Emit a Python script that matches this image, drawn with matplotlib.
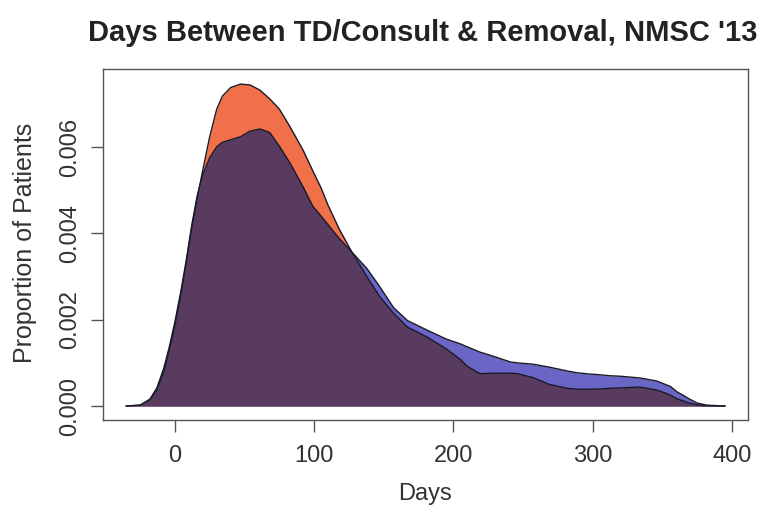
import matplotlib
matplotlib.use("Agg")
import matplotlib.pyplot as plt
import numpy as np

plt.rcParams['font.family'] = ['Liberation Sans', 'DejaVu Sans']

title = "Days Between TD/Consult & Removal, NMSC '13"
xlabel = "Days"
ylabel = "Proportion of Patients"
xticks = [0, 100, 200, 300, 400]
yticks = [0.000, 0.002, 0.004, 0.006]
ytick_labels = ["0.000", "0.002", "0.004", "0.006"]

days = [-35, -25, -18, -13, -8, -4, 0, 4, 8, 12, 16, 20, 25, 30, 34, 40, 47, 54,
        61, 68, 75, 83, 92, 99, 105, 110, 118, 127, 138, 147, 157, 167, 181, 195,
        205, 210, 219, 228, 241, 246, 257, 269, 282, 289, 298, 303, 313, 320, 334,
        346, 353, 356, 361, 365, 368, 372, 375, 382, 395]

density_orange = [0.0, 0.00002, 0.00014, 0.00037, 0.00080, 0.00130, 0.00187, 0.00255,
                  0.00330, 0.00412, 0.00482, 0.00547, 0.00625, 0.00688, 0.00718, 0.00738,
                  0.00746, 0.00744, 0.00732, 0.00712, 0.00688, 0.00645, 0.00593, 0.00545,
                  0.00505, 0.00465, 0.00410, 0.00357, 0.00299, 0.00254, 0.00215, 0.00183,
                  0.00160, 0.00132, 0.00108, 0.00092, 0.00075, 0.00076, 0.00076, 0.00075,
                  0.00066, 0.00050, 0.00041, 0.00039, 0.00039, 0.00039, 0.00041, 0.00042,
                  0.00044, 0.00037, 0.00029, 0.00025, 0.00016, 0.00012, 0.00008, 0.00005,
                  0.00003, 0.0, 0.0]

density_blue = [0.0, 0.00002, 0.00016, 0.00042, 0.00088, 0.00138, 0.00196, 0.00262,
                0.00336, 0.00418, 0.00488, 0.00537, 0.00576, 0.00601, 0.00611, 0.00617,
                0.00624, 0.00637, 0.00642, 0.00634, 0.00602, 0.00561, 0.00508, 0.00463,
                0.00440, 0.00420, 0.00388, 0.00357, 0.00318, 0.00277, 0.00228, 0.00198,
                0.00176, 0.00155, 0.00144, 0.00137, 0.00125, 0.00116, 0.00102, 0.00100,
                0.00097, 0.00090, 0.00081, 0.00077, 0.00074, 0.00073, 0.00070, 0.00069,
                0.00065, 0.00058, 0.00049, 0.00045, 0.00032, 0.00025, 0.00019, 0.00012,
                0.00007, 0.00002, 0.0]

c_orange = "#EF7049"
c_blue = "#6A66C6"
c_overlap = "#5A3B60"

fig = plt.figure(figsize=(7.67, 5.08), dpi=100)
ax = fig.add_axes([103/767, 1-420/508, (748-103)/767, (420-69)/508])

x = np.array(days, dtype=float)
a = np.array(density_orange)
b = np.array(density_blue)
ax.fill_between(x, 0, a, color=c_orange, lw=0)
ax.fill_between(x, 0, b, color=c_blue, lw=0)
ax.fill_between(x, 0, np.minimum(a, b), color=c_overlap, lw=0)
ax.plot(x, a, color="#1a1a26", lw=1.0, solid_joinstyle='round')
ax.plot(x, b, color="#1a1a26", lw=1.0, solid_joinstyle='round')

ax.set_xlim(-51.7, 411.6)
ax.set_ylim(-0.000324, 0.00781)
ax.set_xticks(xticks)
ax.set_xticklabels([str(t) for t in xticks])
ax.set_yticks(yticks)
ax.set_yticklabels(ytick_labels, rotation=90, va='center')
ax.tick_params(axis='both', direction='out', length=8.5, width=1, color='#555555',
               labelsize=17, labelcolor='#333333')
ax.tick_params(axis='x', pad=9.5)
ax.tick_params(axis='y', pad=7.5)
for s in ax.spines.values():
    s.set_color('#555555')
    s.set_linewidth(1)

fig.text(425/767, 1-494/508, xlabel, ha='center', va='center', fontsize=17, color='#333333')
fig.text(25/767, 1-243/508, ylabel, ha='center', va='center', rotation=90, fontsize=18, color='#333333')
fig.text(423/767, 1-33/508, title, ha='center', va='center', fontsize=21, fontweight='bold', color='#222222')

fig.savefig("out.png", dpi=100)
